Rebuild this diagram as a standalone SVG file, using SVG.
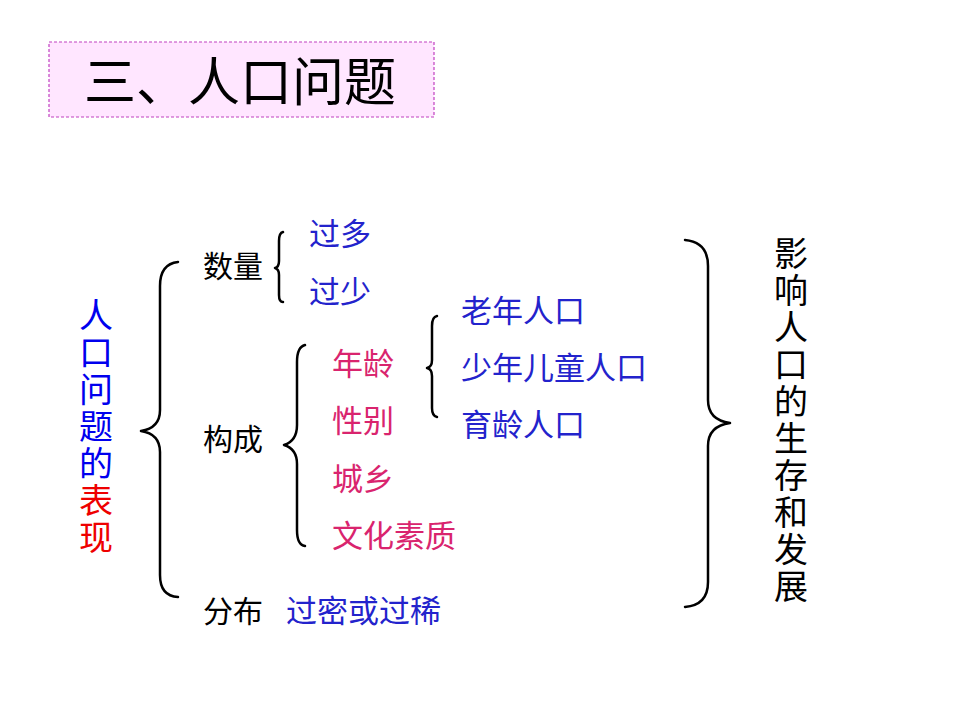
<svg xmlns="http://www.w3.org/2000/svg" width="960" height="720" viewBox="0 0 960 720">
<style>
text{font-family:"Noto Sans CJK SC","Noto Sans",sans-serif;}
.lbl{font-size:30px;fill:#000;}
.blue{font-size:31px;fill:#2323CC;}
.pink{font-size:31px;fill:#D9246E;}
.vert{font-size:34px;writing-mode:vertical-rl;letter-spacing:3px;}
.brace{fill:none;stroke:#000;stroke-width:2.5;stroke-linecap:round;stroke-linejoin:round;}
</style>
<rect width="960" height="720" fill="#fff"/>
<g id="title">
<rect x="49" y="42" width="385" height="75" fill="#FFE6FF" stroke="#C040C0" stroke-width="1.2" stroke-dasharray="3,2"/>
<text x="84" y="101" font-size="52" fill="#000">三、人口问题</text>
</g>
<g id="left-label">
<text class="vert" x="96" y="298" fill="#0000EE">人口问题的<tspan fill="#EE0000">表现</tspan></text>
</g>
<g id="right-label">
<text class="vert" x="791" y="236" fill="#000">影响人口的生存和发展</text>
</g>
<g id="connectors">
<path class="brace" d="M178,262 Q160,264 160,286 L160,410 Q160,428 141,431 Q160,434 160,452 L160,575 Q160,596 178,597"/>
<path class="brace" d="M283,232 Q279,233 279,241 L279,261 Q279,267 275,268 Q279,269 279,275 L279,295 Q279,302 283,302"/>
<path class="brace" d="M305,345 Q297,347 297,362 L297,425 Q297,441 284,445 Q297,449 297,464 L297,530 Q297,545 305,546"/>
<path class="brace" d="M437,316 Q432,317 432,326 L432,360 Q432,367 427,368 Q432,369 432,376 L432,408 Q432,416 437,417"/>
<path class="brace" d="M685,240 Q708,242 708,266 L708,400 Q708,420 730,423 Q708,426 708,446 L708,582 Q708,605 685,607"/>
</g>
<g id="quantity">
<text class="lbl" x="203" y="277">数量</text>
<text class="blue" x="309" y="245">过多</text>
<text class="blue" x="309" y="303">过少</text>
</g>
<g id="structure">
<text class="lbl" x="203" y="450">构成</text>
<text class="pink" x="332" y="375">年龄</text>
<text class="pink" x="332" y="432">性别</text>
<text class="pink" x="332" y="490">城乡</text>
<text class="pink" x="332" y="547">文化素质</text>
</g>
<g id="age">
<text class="blue" x="461" y="322">老年人口</text>
<text class="blue" x="461" y="379">少年儿童人口</text>
<text class="blue" x="461" y="436">育龄人口</text>
</g>
<g id="distribution">
<text class="lbl" x="203" y="622">分布</text>
<text class="blue" x="286" y="622">过密或过稀</text>
</g>
</svg>
